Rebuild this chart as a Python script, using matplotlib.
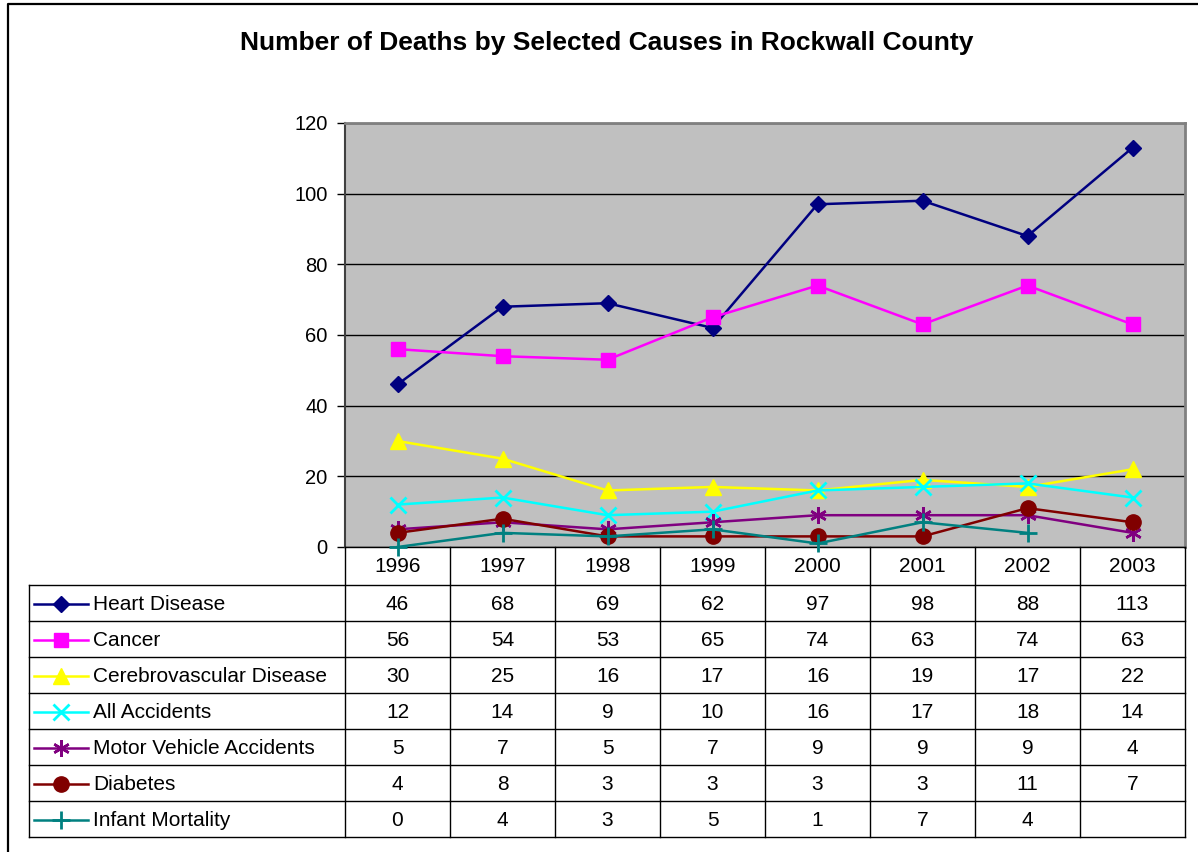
import numpy as np
import matplotlib
matplotlib.use("Agg")
import matplotlib.pyplot as plt
from matplotlib.lines import Line2D

plt.rcParams['font.family'] = ['Liberation Sans', 'DejaVu Sans']

title = "Number of Deaths by Selected Causes in Rockwall County"
years = ["1996", "1997", "1998", "1999", "2000", "2001", "2002", "2003"]

heart = [46, 68, 69, 62, 97, 98, 88, 113]
cancer = [56, 54, 53, 65, 74, 63, 74, 63]
cerebro = [30, 25, 16, 17, 16, 19, 17, 22]
all_acc = [12, 14, 9, 10, 16, 17, 18, 14]
motor = [5, 7, 5, 7, 9, 9, 9, 4]
diabetes = [4, 8, 3, 3, 3, 3, 11, 7]
infant = [0, 4, 3, 5, 1, 7, 4, None]

series_names = ["Heart Disease", "Cancer", "Cerebrovascular Disease", "All Accidents",
                "Motor Vehicle Accidents", "Diabetes", "Infant Mortality"]
series_values = [heart, cancer, cerebro, all_acc, motor, diabetes, infant]
colors = ["#000080", "#FF00FF", "#FFFF00", "#00FFFF", "#800080", "#800000", "#008080"]
markers = ["D", "s", "^", "x", (6, 2, 0), "o", "+"]
msizes = [8, 10, 11, 11, 12, 11, 13]
mews = [1, 1, 1, 2, 1.8, 1, 2]

FS = 15

W, H = 1198, 852
fig = plt.figure(figsize=(W / 100, H / 100), dpi=100)

# plot area in pixels
L, R, T, B = 345, 1185, 123, 547
ax = fig.add_axes([L / W, 1 - B / H, (R - L) / W, (B - T) / H])
ax.set_facecolor("#C0C0C0")
x = np.arange(len(years))
for name, vals, c, m, ms, mew in zip(series_names, series_values, colors, markers, msizes, mews):
    y = np.array([np.nan if v is None else v for v in vals], dtype=float)
    ax.plot(x, y, color=c, lw=1.8, marker=m, markersize=ms, markerfacecolor=c,
            markeredgecolor=c, markeredgewidth=mew, clip_on=False, zorder=3)
ax.set_xlim(-0.5, len(years) - 0.5)
ax.set_ylim(0, 120)
ax.set_yticks(range(0, 121, 20))
ax.yaxis.grid(True, color="black", lw=1)
ax.set_axisbelow(True)
ax.set_xticks([])
ax.tick_params(axis="y", direction="out", length=5.5, width=1, labelsize=14.5, pad=7, colors="black")
for sp in ["top", "right"]:
    ax.spines[sp].set_color("#808080")
    ax.spines[sp].set_linewidth(2)
ax.spines["left"].set_color("#404040")
ax.spines["left"].set_linewidth(1.5)
ax.spines["bottom"].set_color("black")
ax.spines["bottom"].set_linewidth(1)

# overlay in pixel coords for title, border and data table
ov = fig.add_axes([0, 0, 1, 1], facecolor="none", zorder=5)
ov.set_xlim(0, W)
ov.set_ylim(H, 0)
ov.axis("off")

# outer border
ov.plot([8, 8, W + 5], [H + 5, 4, 4], color="black", lw=1.6)

ov.text(607, 43, title, ha="center", va="center", fontsize=19, fontweight="bold")

# table geometry
tl = 29
hdr_bot = 585
rh = 36
ncol = len(years)
cw = (R - L) / ncol
nrows = len(series_names)
bottom = hdr_bot + rh * nrows

# vertical lines
ov.plot([tl, tl], [hdr_bot, bottom], color="black", lw=1)
for k in range(ncol + 1):
    ov.plot([L + k * cw] * 2, [B, bottom], color="black", lw=1)
# horizontal lines
for r in range(nrows + 1):
    ov.plot([tl, R], [hdr_bot + r * rh] * 2, color="black", lw=1)

for k, yr in enumerate(years):
    ov.text(L + (k + 0.5) * cw, (B + hdr_bot) / 2 + 1, yr, ha="center", va="center", fontsize=FS)

for r, (name, vals, c, m, ms, mew) in enumerate(zip(series_names, series_values, colors, markers, msizes, mews)):
    yc = hdr_bot + (r + 0.5) * rh + 1
    ov.add_line(Line2D([34, 88], [yc, yc], color=c, lw=1.8))
    ov.add_line(Line2D([61], [yc], color=c, marker=m, markersize=ms, markerfacecolor=c,
                       markeredgecolor=c, markeredgewidth=mew))
    ov.text(93, yc, name, ha="left", va="center", fontsize=FS)
    for k, v in enumerate(vals):
        if v is not None:
            ov.text(L + (k + 0.5) * cw, yc, str(v), ha="center", va="center", fontsize=FS)

fig.savefig("out.png", dpi=100)
